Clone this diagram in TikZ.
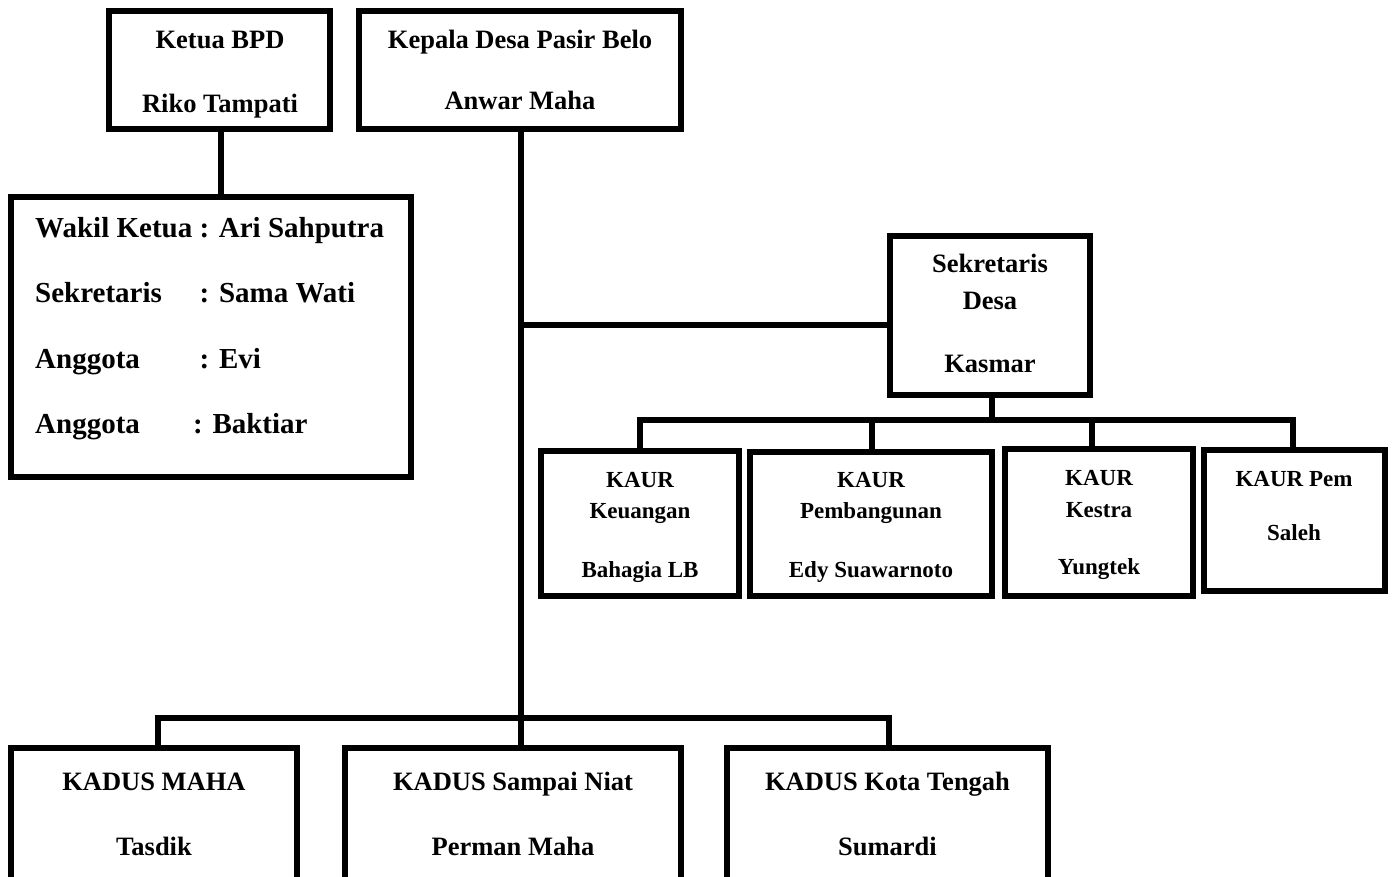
\documentclass[tikz,border=0pt]{standalone}
\usepackage{fontspec}
\setmainfont{Liberation Serif}
\begin{document}
\begin{tikzpicture}[x=1pt,y=-1pt,
  box/.style={draw, line width=6pt, rectangle, inner sep=0pt},
  conn/.style={draw, line width=6pt},
  txt/.style={inner sep=0pt, anchor=base, font=\fontsize{26.5}{30}\selectfont\bfseries},
  txtl/.style={inner sep=0pt, anchor=base west, font=\fontsize{29}{32}\selectfont\bfseries},
  txts/.style={inner sep=0pt, anchor=base, font=\fontsize{23}{26}\selectfont\bfseries}]
\useasboundingbox (0,0) rectangle (1392,877);
\clip (0,0) rectangle (1392,877);
% boxes
\node[box, minimum width=221pt, minimum height=118pt] (ketua) at (219.5,70) {};
\node[box, minimum width=322pt, minimum height=118pt] (kepala) at (520,70) {};
\node[box, minimum width=400pt, minimum height=280pt] (wakil) at (211,337) {};
\node[box, minimum width=200pt, minimum height=159pt] (sek) at (990,315.5) {};
\node[box, minimum width=198pt, minimum height=145pt] (k1) at (640,523.5) {};
\node[box, minimum width=242pt, minimum height=144pt] (k2) at (871,524) {};
\node[box, minimum width=188pt, minimum height=147pt] (k3) at (1099,522.5) {};
\node[box, minimum width=181pt, minimum height=141pt] (k4) at (1294.5,520.5) {};
\node[box, minimum width=286pt, minimum height=169pt] (kd1) at (154,832.5) {};
\node[box, minimum width=336pt, minimum height=169pt] (kd2) at (513,832.5) {};
\node[box, minimum width=321pt, minimum height=169pt] (kd3) at (887.5,832.5) {};
% junction coordinates
\coordinate (jT) at (221,132);
\coordinate (jM) at (521,132);
\coordinate (jS) at (521,325);
\coordinate (hK) at (992,420);
\coordinate (dK1) at (640,420);
\coordinate (dK2) at (872,420);
\coordinate (dK3) at (1092,420);
\coordinate (dK4) at (1293,420);
\coordinate (dA) at (158,718);
\coordinate (dC) at (889,718);
% connectors
\draw[conn] (jT) -- (jT |- wakil.north);
\draw[conn] (jM) -- (jM |- kd2.north);
\draw[conn] (jS) -- (jS -| sek.west);
\draw[conn] (hK |- sek.south) -- (hK);
\draw[conn] (dK1 |- k1.north) -- (dK1) -- (dK4) -- (dK4 |- k4.north);
\draw[conn] (dK2) -- (dK2 |- k2.north);
\draw[conn] (dK3) -- (dK3 |- k3.north);
\draw[conn] (dA |- kd1.north) -- (dA) -- (dC) -- (dC |- kd3.north);
% texts
\node[txt] (t1) at (220,49) {Ketua BPD};
\node[txt] (t2) at (220,113) {Riko Tampati};
\node[txt] (t3) at (520,49) {Kepala Desa Pasir Belo};
\node[txt] (t4) at (520,110) {Anwar Maha};
\node[txtl] (w1) at (35,238) {Wakil Ketua : Ari Sahputra};
\node[txtl] (w2) at (35,303) {\makebox[164.5pt][l]{Sekretaris}: Sama Wati};
\node[txtl] (w3) at (35,368) {\makebox[164.5pt][l]{Anggota}: Evi};
\node[txtl] (w4) at (35,433) {\makebox[158pt][l]{Anggota}: Baktiar};
\node[txt] (s1) at (990,273) {Sekretaris};
\node[txt] (s2) at (990,309) {Desa};
\node[txt] (s3) at (990,372) {Kasmar};
\node[txts] (a1) at (640,487) {KAUR};
\node[txts] (a2) at (640,518) {Keuangan};
\node[txts] (a3) at (640,577) {Bahagia LB};
\node[txts] (b1) at (871,487) {KAUR};
\node[txts] (b2) at (871,518) {Pembangunan};
\node[txts] (b3) at (871,577) {Edy Suawarnoto};
\node[txts] (c1) at (1099,485) {KAUR};
\node[txts] (c2) at (1099,517) {Kestra};
\node[txts] (c3) at (1099,574) {Yungtek};
\node[txts] (e1) at (1294,486) {KAUR Pem};
\node[txts] (e2) at (1294,540) {Saleh};
\node[txt] (f1) at (154,790) {KADUS MAHA};
\node[txt] (f2) at (154,855) {Tasdik};
\node[txt] (g1) at (513,790) {KADUS Sampai Niat};
\node[txt] (g2) at (513,855) {Perman Maha};
\node[txt] (h1) at (887.5,790) {KADUS Kota Tengah};
\node[txt] (h2) at (887.5,855) {Sumardi};
\end{tikzpicture}
\end{document}
